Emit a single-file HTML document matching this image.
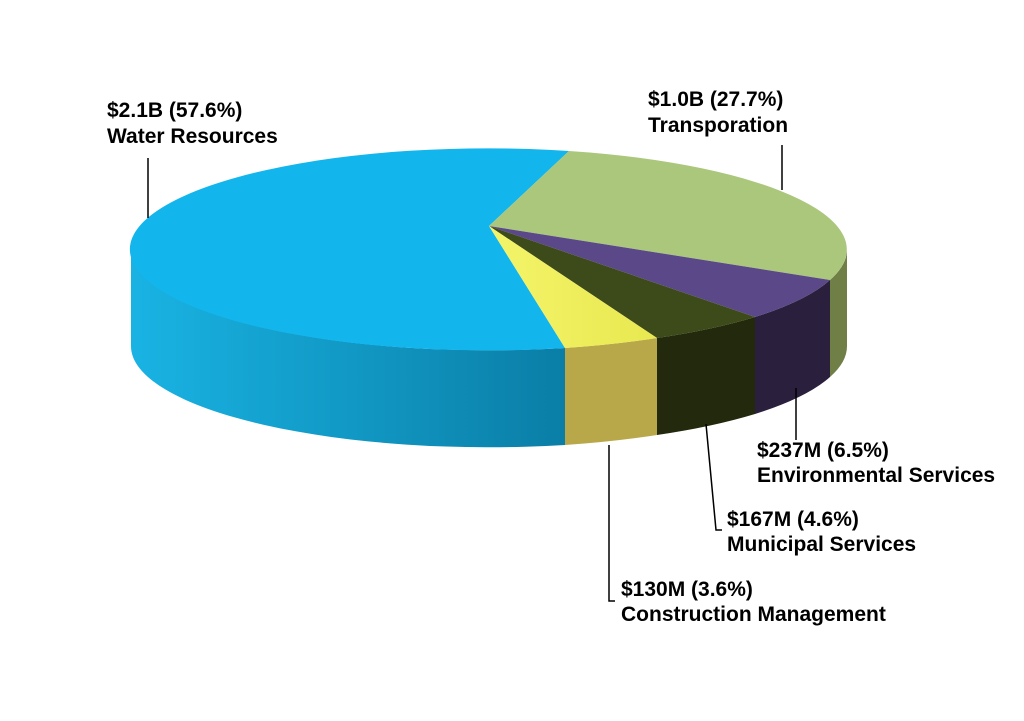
<!DOCTYPE html>
<html><head><meta charset="utf-8"><style>
html,body{margin:0;padding:0;background:#fff;}
svg{display:block;}
text{font-family:"Liberation Sans",Arial,sans-serif;font-weight:bold;font-size:21px;fill:#000;}
</style></head><body>
<svg width="1024" height="721" viewBox="0 0 1024 721" xmlns="http://www.w3.org/2000/svg">
<defs>
<linearGradient id="wside" x1="0" x2="1" y1="0" y2="0">
<stop offset="0" stop-color="#19b3e3"/><stop offset="1" stop-color="#0a7ea6"/>
</linearGradient>
<linearGradient id="ytop" x1="0" x2="1"><stop offset="0" stop-color="#f4f46a"/><stop offset="1" stop-color="#e8e850"/></linearGradient>
</defs>
<path d="M131,249 A358,101 0 0 0 565,348 L565,445 A358,101 0 0 1 131,346 Z" fill="url(#wside)"/>
<path d="M565,348 A358,101 0 0 0 657,338 L657,435 A358,101 0 0 1 565,445 Z" fill="#b8a84a"/>
<path d="M657,338 A358,101 0 0 0 755,317 L755,414 A358,101 0 0 1 657,435 Z" fill="#22290c"/>
<path d="M755,317 A358,101 0 0 0 830,280 L830,377 A358,101 0 0 1 755,414 Z" fill="#2a1f3c"/>
<path d="M830,280 A358,101 0 0 0 847,249 L847,346 A358,101 0 0 1 830,377 Z" fill="#6f7f45"/>
<path d="M489,226 L569,151 A358,101 0 1 0 565,348 Z" fill="#12b5ec"/>
<path d="M489,226 L569,151 A358,101 0 0 1 830,280 Z" fill="#aac77c"/>
<path d="M489,226 L830,280 A358,101 0 0 1 755,317 Z" fill="#5a4888"/>
<path d="M489,226 L755,317 A358,101 0 0 1 657,338 Z" fill="#3d4a1a"/>
<path d="M489,226 L657,338 A358,101 0 0 1 565,348 Z" fill="url(#ytop)"/>
<g stroke="#000" stroke-width="1.5" fill="none">
<path d="M148,218 L148,158"/>
<path d="M782,190 L782,145"/>
<path d="M796,388 L796,440"/>
<path d="M706,424 L716,530 L722,530"/>
<path d="M609,445 L609,601 L615,601"/>
</g>
<text x="107" y="117">$2.1B (57.6%)</text>
<text x="107" y="143">Water Resources</text>
<text x="648" y="106">$1.0B (27.7%)</text>
<text x="648" y="132">Transporation</text>
<text x="757" y="457">$237M (6.5%)</text>
<text x="757" y="482">Environmental Services</text>
<text x="727" y="526">$167M (4.6%)</text>
<text x="727" y="551">Municipal  Services</text>
<text x="621" y="596">$130M (3.6%)</text>
<text x="621" y="621">Construction Management</text>
</svg>
</body></html>
